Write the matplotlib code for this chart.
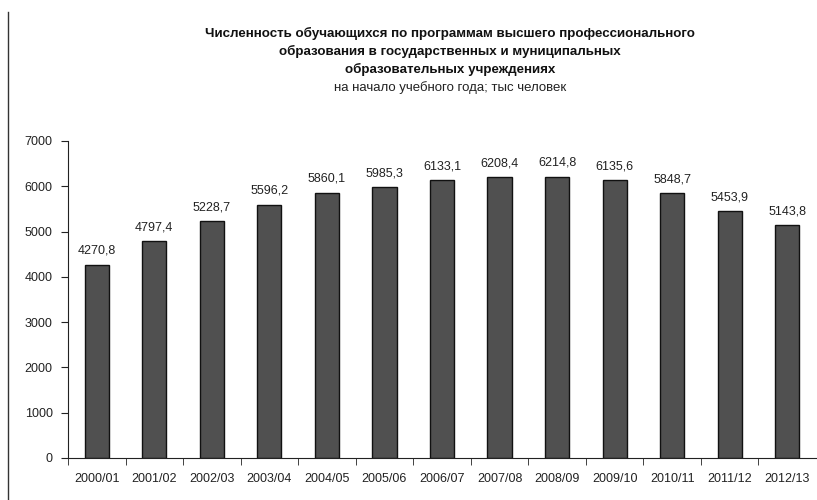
import matplotlib.pyplot as plt
import numpy as np
from matplotlib.lines import Line2D

plt.rcParams['font.family'] = ['Liberation Sans', 'DejaVu Sans']

years = ['2000/01', '2001/02', '2002/03', '2003/04', '2004/05', '2005/06', '2006/07',
         '2007/08', '2008/09', '2009/10', '2010/11', '2011/12', '2012/13']
students = [4270.8, 4797.4, 5228.7, 5596.2, 5860.1, 5985.3, 6133.1,
            6208.4, 6214.8, 6135.6, 5848.7, 5453.9, 5143.8]

fig = plt.figure(figsize=(8.17, 5.0), dpi=100)
ax = fig.add_axes([68 / 817, 42 / 500, 748 / 817, 317 / 500])

x = np.arange(len(years))
ax.bar(x, students, width=0.42, color='#505050', edgecolor='#111111', linewidth=1.0)

for xi, v in zip(x, students):
    ax.text(xi, v + 170, f'{v:.1f}'.replace('.', ','), ha='center', va='bottom',
            fontsize=9, color='#222222')

ax.set_xlim(-0.5, len(years) - 0.5)
ax.set_ylim(0, 7000)
ax.set_yticks(range(0, 7001, 1000))
ax.set_xticks(x)
ax.set_xticklabels(years)
# category separators below the axis (none at the far right end)
ax.set_xticks(np.arange(-0.5, len(years) - 1, 1), minor=True)
ax.tick_params(axis='x', which='major', length=0, pad=11, labelsize=9, labelcolor='#222222')
ax.tick_params(axis='x', which='minor', length=5, direction='out', color='#222222')
ax.tick_params(axis='y', length=5, direction='out', pad=6, labelsize=9,
               labelcolor='#222222', color='#222222')

for side in ['top', 'right']:
    ax.spines[side].set_visible(False)
for side in ['left', 'bottom']:
    ax.spines[side].set_color('#222222')

fig.text(0.551, 0.946, 'Численность обучающихся по программам высшего профессионального\n'
         'образования в государственных и муниципальных\n'
         'образовательных учреждениях',
         ha='center', va='top', fontsize=9.6, fontweight='bold', linespacing=1.5, color='#111111')
fig.text(0.551, 0.838, 'на начало учебного года; тыс человек',
         ha='center', va='top', fontsize=9.5, color='#222222')

# left frame border
fig.add_artist(Line2D([8 / 817, 8 / 817], [0, 0.976], color='#333333', linewidth=1.0,
                      transform=fig.transFigure))

fig.savefig('out.png', dpi=100, facecolor='white')
